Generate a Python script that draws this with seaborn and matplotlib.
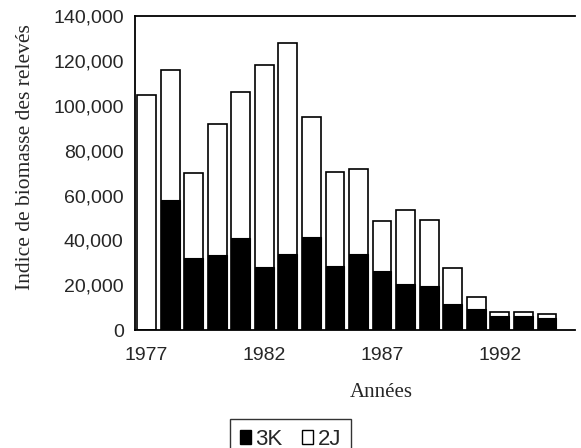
import pandas as pd
import matplotlib.pyplot as plt
import seaborn as sns
from matplotlib.patches import Patch
from matplotlib.ticker import FuncFormatter

years = [str(y) for y in range(1977, 1995)]
k3 = [0, 58000, 32000, 33500, 41000, 28000, 34000, 41500, 28500, 34000,
      26500, 20500, 19500, 11500, 9500, 6300, 6300, 5400]
j2 = [105000, 58000, 38000, 58500, 65000, 90000, 94000, 53500, 42000, 38000,
      22000, 33000, 29500, 16000, 5500, 1700, 1700, 1800]

df = pd.DataFrame({"year": years, "3K": k3, "2J": j2})
df["total"] = df["3K"] + df["2J"]

sns.set_style("white")
fig = plt.figure(figsize=(5.81, 4.48), dpi=100)
ax = fig.add_axes([0.232, 0.263, 0.758, 0.701])

# stacked: white total bar behind, black 3K bar in front
sns.barplot(data=df, x="year", y="total", color="white", edgecolor="black",
            linewidth=1.2, width=0.8, saturation=1, ax=ax)
sns.barplot(data=df, x="year", y="3K", color="black", edgecolor="black",
            linewidth=0.8, width=0.8, saturation=1, ax=ax)

ax.set_ylim(0, 140000)
ax.set_xlim(-0.5, 18.2)
ax.set_yticks(range(0, 140001, 20000))
ax.yaxis.set_major_formatter(FuncFormatter(lambda v, p: f"{int(v):,}"))
ax.set_xticks([0, 5, 10, 15])
ax.set_xticklabels(["1977", "1982", "1987", "1992"])
ax.tick_params(axis="y", direction="in", length=4, labelsize=14, pad=8)
ax.tick_params(axis="x", length=0, labelsize=14, pad=12)
for lab in ax.get_xticklabels() + ax.get_yticklabels():
    lab.set_family("Liberation Sans")

for s in ["top", "left", "bottom"]:
    ax.spines[s].set_color("black")
    ax.spines[s].set_linewidth(1.3)
ax.spines["right"].set_visible(False)

ax.set_ylabel("Indice de biomasse des relevés", family="Liberation Serif",
              fontsize=15.5)
ax.yaxis.set_label_coords(-0.227, 0.55)
ax.set_xlabel("")
fig.text(0.656, 0.125, "Années", family="Liberation Serif", fontsize=15,
         ha="center", va="center")

handles = [Patch(facecolor="black", edgecolor="black"),
           Patch(facecolor="white", edgecolor="black")]
fig.legend(handles, ["3K", "2J"], loc="center", bbox_to_anchor=(0.5, 0.02),
           ncol=2, frameon=True, fancybox=False, edgecolor="black",
           handlelength=0.5, handleheight=0.6, handletextpad=0.2,
           columnspacing=0.9, borderpad=0.45, borderaxespad=0,
           prop={"family": "Liberation Sans", "size": 16})

fig.savefig("out.png", dpi=100)
